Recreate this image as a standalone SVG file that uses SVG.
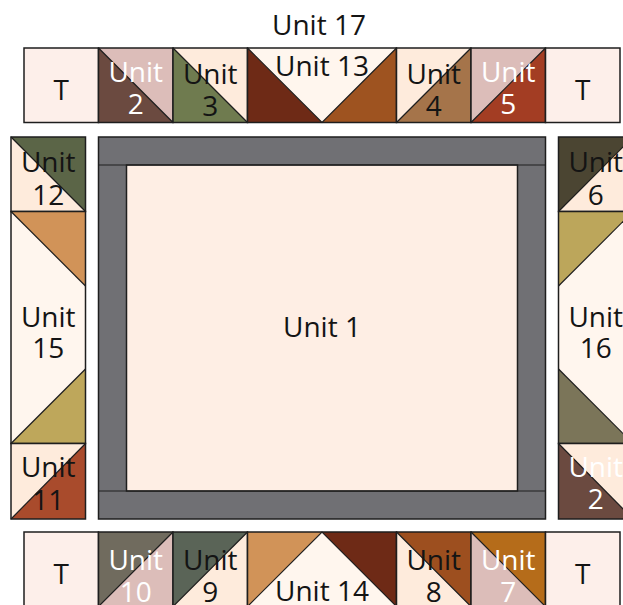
<svg xmlns="http://www.w3.org/2000/svg" width="623" height="605" viewBox="0 0 623 605">
<style>
.b{stroke:#1e1e1e;stroke-width:1.5}
.d{stroke:#1e1e1e;stroke-width:1.2;fill:none}
.t{font-family:"Open Sans","Noto Sans",sans-serif;font-size:28px;text-anchor:middle;fill:#141414}
.w{fill:#ffffff}
.tp{fill:#fdefea}.pk{fill:#dcbdb9}.cr{fill:#feebdc}.lc{fill:#fff6ee}
</style>
<rect width="623" height="605" fill="#ffffff"/>
<text class="t" x="319" y="35">Unit 17</text>
<g id="top-row">
<g id="t1"><rect class="tp b" x="24" y="48" width="74.5" height="74.5"/><text class="t" x="61.25" y="100">T</text></g>
<g id="u2"><rect class="pk" x="98.5" y="48" width="74.5" height="74.5"/><polygon points="98.5,48 173,122.5 98.5,122.5" fill="#6b4a40"/><line class="d" x1="98.5" y1="48" x2="173" y2="122.5"/><rect class="b" fill="none" x="98.5" y="48" width="74.5" height="74.5"/><text class="t w" x="135.75" y="82">Unit</text><text class="t w" x="135.75" y="114">2</text></g>
<g id="u3"><rect class="cr" x="173" y="48" width="74.5" height="74.5"/><polygon points="173,48 247.5,122.5 173,122.5" fill="#6f7b4f"/><line class="d" x1="173" y1="48" x2="247.5" y2="122.5"/><rect class="b" fill="none" x="173" y="48" width="74.5" height="74.5"/><text class="t" x="210.25" y="84">Unit</text><text class="t" x="210.25" y="116">3</text></g>
<g id="u13"><rect class="lc" x="247.5" y="48" width="149" height="74.5"/><polygon points="247.5,48 322,122.5 247.5,122.5" fill="#6e2a16"/><polygon points="396.5,48 396.5,122.5 322,122.5" fill="#9e5320"/><polyline class="d" points="247.5,48 322,122.5 396.5,48"/><rect class="b" fill="none" x="247.5" y="48" width="149" height="74.5"/><text class="t" x="322" y="76">Unit 13</text></g>
<g id="u4"><rect class="cr" x="396.5" y="48" width="74.5" height="74.5"/><polygon points="471,48 471,122.5 396.5,122.5" fill="#a5744a"/><line class="d" x1="471" y1="48" x2="396.5" y2="122.5"/><rect class="b" fill="none" x="396.5" y="48" width="74.5" height="74.5"/><text class="t" x="433.75" y="84">Unit</text><text class="t" x="433.75" y="116">4</text></g>
<g id="u5"><rect class="pk" x="471" y="48" width="74.5" height="74.5"/><polygon points="545.5,48 545.5,122.5 471,122.5" fill="#a33d23"/><line class="d" x1="545.5" y1="48" x2="471" y2="122.5"/><rect class="b" fill="none" x="471" y="48" width="74.5" height="74.5"/><text class="t w" x="508.25" y="82">Unit</text><text class="t w" x="508.25" y="114">5</text></g>
<g id="t2"><rect class="tp b" x="545.5" y="48" width="74.5" height="74.5"/><text class="t" x="582.75" y="100">T</text></g>
</g>
<g id="left-col">
<g id="u12"><rect class="cr" x="11" y="137" width="74.5" height="74.5"/><polygon points="11,137 85.5,137 85.5,211.5" fill="#5b6547"/><line class="d" x1="11" y1="137" x2="85.5" y2="211.5"/><rect class="b" fill="none" x="11" y="137" width="74.5" height="74.5"/><text class="t" x="48.25" y="172">Unit</text><text class="t" x="48.25" y="205">12</text></g>
<g id="u15"><rect class="lc" x="11" y="211.5" width="74.5" height="232"/><polygon points="11,211.5 85.5,211.5 85.5,286" fill="#d19358"/><polygon points="85.5,369 85.5,443.5 11,443.5" fill="#bea75b"/><line class="d" x1="11" y1="211.5" x2="85.5" y2="286"/><line class="d" x1="85.5" y1="369" x2="11" y2="443.5"/><rect class="b" fill="none" x="11" y="211.5" width="74.5" height="232"/><text class="t" x="48.25" y="327">Unit</text><text class="t" x="48.25" y="358">15</text></g>
<g id="u11"><rect class="cr" x="11" y="443.5" width="74.5" height="75.5"/><polygon points="85.5,443.5 85.5,519 11,519" fill="#a94b2c"/><line class="d" x1="85.5" y1="443.5" x2="11" y2="519"/><rect class="b" fill="none" x="11" y="443.5" width="74.5" height="75.5"/><text class="t" x="48.25" y="477">Unit</text><text class="t" x="48.25" y="510">11</text></g>
</g>
<g id="u1">
<rect x="98.5" y="137" width="447" height="382" fill="#707074" class="b"/>
<rect x="126.5" y="165" width="391" height="326" fill="#feeee4" class="b"/>
<line class="d" x1="98.5" y1="165" x2="545.5" y2="165"/>
<line class="d" x1="98.5" y1="491" x2="545.5" y2="491"/>
<text class="t" x="322" y="337">Unit 1</text>
</g>
<g id="right-col">
<g id="u6"><rect class="cr" x="558.5" y="137" width="74.5" height="74.5"/><polygon points="558.5,137 633,137 558.5,211.5" fill="#4b4532"/><line class="d" x1="558.5" y1="211.5" x2="633" y2="137"/><rect class="b" fill="none" x="558.5" y="137" width="74.5" height="74.5"/><text class="t" x="595.75" y="172">Unit</text><text class="t" x="595.75" y="205">6</text></g>
<g id="u16"><rect class="lc" x="558.5" y="211.5" width="74.5" height="232"/><polygon points="558.5,211.5 633,211.5 558.5,286" fill="#bca65b"/><polygon points="558.5,369 558.5,443.5 633,443.5" fill="#7b7559"/><line class="d" x1="633" y1="211.5" x2="558.5" y2="286"/><line class="d" x1="558.5" y1="369" x2="633" y2="443.5"/><rect class="b" fill="none" x="558.5" y="211.5" width="74.5" height="232"/><text class="t" x="595.75" y="327">Unit</text><text class="t" x="595.75" y="358">16</text></g>
<g id="u2b"><rect class="cr" x="558.5" y="443.5" width="74.5" height="75.5"/><polygon points="558.5,443.5 633,519 558.5,519" fill="#6b4a40"/><line class="d" x1="558.5" y1="443.5" x2="633" y2="519"/><rect class="b" fill="none" x="558.5" y="443.5" width="74.5" height="75.5"/><text class="t w" x="595.75" y="477">Unit</text><text class="t w" x="595.75" y="509">2</text></g>
</g>
<g id="bottom-row">
<g id="t3"><rect class="tp b" x="24" y="532" width="74.5" height="74.5"/><text class="t" x="61.25" y="584">T</text></g>
<g id="u10"><rect class="pk" x="98.5" y="532" width="74.5" height="74.5"/><polygon points="98.5,532 173,532 98.5,606.5" fill="#706b5e"/><line class="d" x1="173" y1="532" x2="98.5" y2="606.5"/><rect class="b" fill="none" x="98.5" y="532" width="74.5" height="74.5"/><text class="t w" x="135.75" y="570">Unit</text><text class="t w" x="135.75" y="602">10</text></g>
<g id="u9"><rect class="cr" x="173" y="532" width="74.5" height="74.5"/><polygon points="173,532 247.5,532 173,606.5" fill="#5a6457"/><line class="d" x1="247.5" y1="532" x2="173" y2="606.5"/><rect class="b" fill="none" x="173" y="532" width="74.5" height="74.5"/><text class="t" x="210.25" y="570">Unit</text><text class="t" x="210.25" y="602">9</text></g>
<g id="u14"><rect class="lc" x="247.5" y="532" width="149" height="74.5"/><polygon points="247.5,532 322,532 247.5,606.5" fill="#d19358"/><polygon points="322,532 396.5,532 396.5,606.5" fill="#6e2a16"/><polyline class="d" points="247.5,606.5 322,532 396.5,606.5"/><rect class="b" fill="none" x="247.5" y="532" width="149" height="74.5"/><text class="t" x="322" y="601">Unit 14</text></g>
<g id="u8"><rect class="cr" x="396.5" y="532" width="74.5" height="74.5"/><polygon points="396.5,532 471,532 471,606.5" fill="#9d4f1f"/><line class="d" x1="396.5" y1="532" x2="471" y2="606.5"/><rect class="b" fill="none" x="396.5" y="532" width="74.5" height="74.5"/><text class="t" x="433.75" y="570">Unit</text><text class="t" x="433.75" y="602">8</text></g>
<g id="u7"><rect class="pk" x="471" y="532" width="74.5" height="74.5"/><polygon points="471,532 545.5,532 545.5,606.5" fill="#b56c1a"/><line class="d" x1="471" y1="532" x2="545.5" y2="606.5"/><rect class="b" fill="none" x="471" y="532" width="74.5" height="74.5"/><text class="t w" x="508.25" y="570">Unit</text><text class="t w" x="508.25" y="602">7</text></g>
<g id="t4"><rect class="tp b" x="545.5" y="532" width="74.5" height="74.5"/><text class="t" x="582.75" y="584">T</text></g>
</g>
</svg>
